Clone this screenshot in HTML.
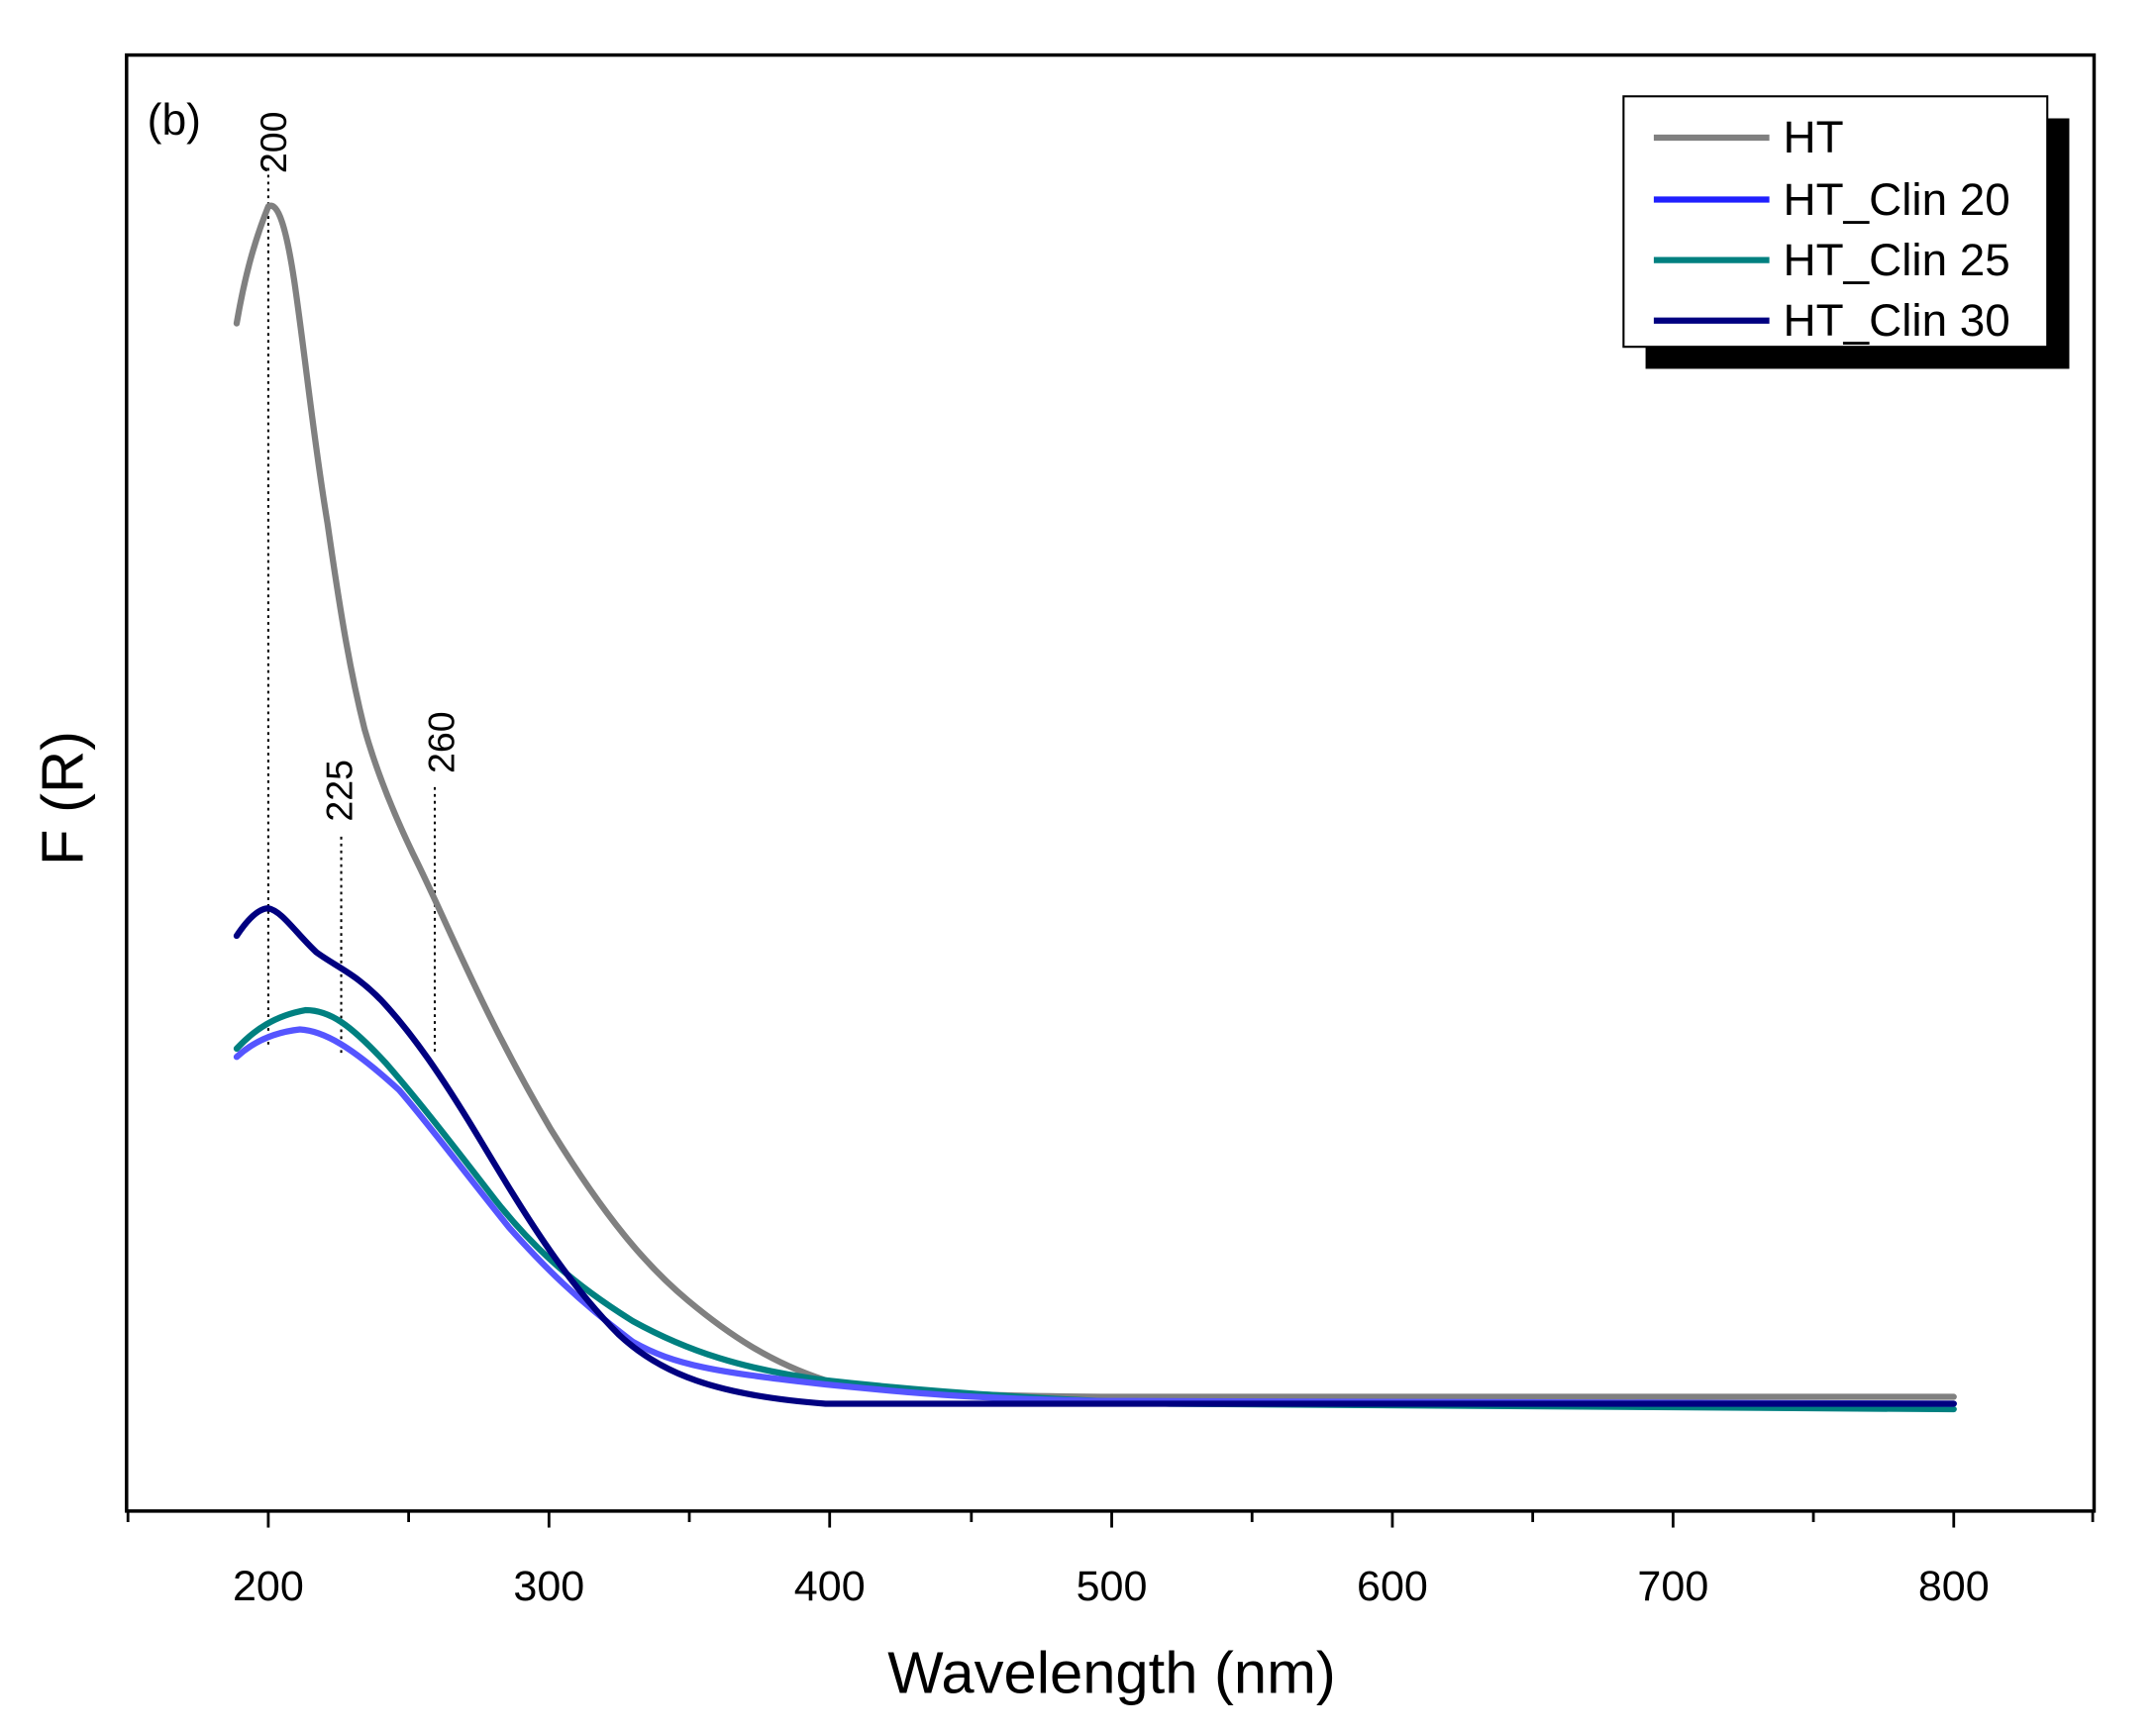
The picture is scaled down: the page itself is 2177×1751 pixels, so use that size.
<!DOCTYPE html>
<html><head><meta charset="utf-8"><style>html,body{margin:0;padding:0;background:#fff}svg{display:block}</style></head>
<body>
<svg width="2177" height="1751" viewBox="0 0 1567 1260" preserveAspectRatio="none" xmlns="http://www.w3.org/2000/svg" font-family="Liberation Sans, Arial, sans-serif">
<rect width="1567" height="1260" fill="#fff"/>
<rect x="92" y="40" width="1430" height="1058" fill="none" stroke="#000" stroke-width="2.5"/>
<g stroke="#000" stroke-width="2">
<line x1="195" y1="1098" x2="195" y2="1110"/><line x1="399" y1="1098" x2="399" y2="1110"/><line x1="603" y1="1098" x2="603" y2="1110"/><line x1="808" y1="1098" x2="808" y2="1110"/><line x1="1012" y1="1098" x2="1012" y2="1110"/><line x1="1216" y1="1098" x2="1216" y2="1110"/><line x1="1420" y1="1098" x2="1420" y2="1110"/>
<line x1="93" y1="1098" x2="93" y2="1106"/><line x1="297" y1="1098" x2="297" y2="1106"/><line x1="501" y1="1098" x2="501" y2="1106"/><line x1="706" y1="1098" x2="706" y2="1106"/><line x1="910" y1="1098" x2="910" y2="1106"/><line x1="1114" y1="1098" x2="1114" y2="1106"/><line x1="1318" y1="1098" x2="1318" y2="1106"/><line x1="1521" y1="1098" x2="1521" y2="1106"/>
</g>
<g font-size="31" text-anchor="middle" fill="#000">
<text x="195" y="1163">200</text><text x="399" y="1163">300</text><text x="603" y="1163">400</text><text x="808" y="1163">500</text><text x="1012" y="1163">600</text><text x="1216" y="1163">700</text><text x="1420" y="1163">800</text>
</g>
<text x="808" y="1230" font-size="43" text-anchor="middle">Wavelength (nm)</text>
<text transform="translate(60,580) rotate(-90)" font-size="43" text-anchor="middle">F (R)</text>
<text x="107" y="98" font-size="32">(b)</text>
<g stroke="#000" stroke-width="1.5" stroke-dasharray="2,3">
<line x1="195" y1="122" x2="195" y2="762"/><line x1="248" y1="608" x2="248" y2="766"/><line x1="316" y1="572" x2="316" y2="766"/>
</g>
<g font-size="27" fill="#000">
<text transform="translate(208,126) rotate(-90)">200</text>
<text transform="translate(256,597) rotate(-90)">225</text>
<text transform="translate(330,562) rotate(-90)">260</text>
</g>
<g fill="none" stroke-width="4.5" stroke-linejoin="round" stroke-linecap="round">
<path stroke="#808080" d="M172,235 C178,200 185,175 195,150 C202,146 208,165 214,205 C222,260 228,320 238,380 C248,450 255,490 265,530 C275,565 288,595 300,620 C325,670 350,735 400,820 C440,885 470,920 500,945 C530,970 560,990 600,1003 C650,1012 700,1014 800,1015 L1420,1015"/>
<path stroke="#008080" d="M172,762 C185,748 200,738 222,734 C240,734 255,745 280,772 C300,795 320,820 360,872 C390,910 420,935 460,960 C500,982 540,995 600,1003 C680,1012 760,1017 850,1020 L1420,1024"/>
<path stroke="#5555ff" d="M172,768 C185,756 200,750 218,748 C235,749 255,760 290,792 C310,815 330,842 370,892 C395,920 420,945 460,975 C490,992 520,997 600,1006 C660,1012 700,1016 800,1018 L1420,1020"/>
<path stroke="#000080" d="M172,680 C180,668 188,660 195,660 C205,662 215,678 230,692 C245,703 260,708 280,730 C300,752 320,780 350,830 C380,880 410,930 450,970 C480,998 520,1014 600,1020 L1420,1020"/>
</g>
<rect x="1196" y="86" width="308" height="182" fill="#000"/>
<rect x="1180" y="70" width="308" height="182" fill="#fff" stroke="#000" stroke-width="1.5"/>
<g stroke-width="4.5">
<line x1="1202" y1="100" x2="1286" y2="100" stroke="#808080"/>
<line x1="1202" y1="145" x2="1286" y2="145" stroke="#2020ff"/>
<line x1="1202" y1="189" x2="1286" y2="189" stroke="#008080"/>
<line x1="1202" y1="233" x2="1286" y2="233" stroke="#000080"/>
</g>
<g font-size="33" fill="#000">
<text x="1296" y="111">HT</text><text x="1296" y="156">HT_Clin 20</text><text x="1296" y="200">HT_Clin 25</text><text x="1296" y="244">HT_Clin 30</text>
</g>
</svg>
</body></html>
